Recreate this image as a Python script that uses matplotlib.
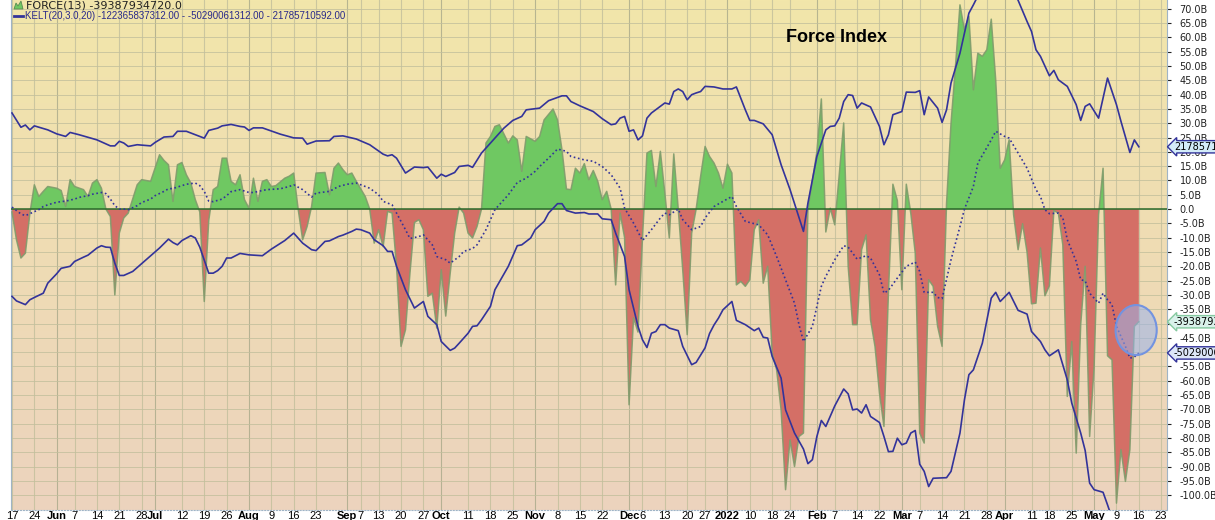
import numpy as np
import pandas as pd
import matplotlib
matplotlib.use("Agg")
import matplotlib.pyplot as plt
from matplotlib.colors import LinearSegmentedColormap
from matplotlib.patches import Ellipse, Polygon
from matplotlib.transforms import blended_transform_factory
from matplotlib.lines import Line2D

# trading calendar (day 0 = 2021-05-17)
holidays = ["2021-05-31", "2021-07-05", "2021-09-06", "2021-11-25", "2021-12-24",
            "2022-01-17", "2022-02-21", "2022-04-15", "2022-05-30"]
days = pd.bdate_range("2021-05-17", "2022-06-03", freq="C", holidays=holidays)

tick_dates = ["2021-05-17", "2021-05-24", "2021-06-01", "2021-06-07", "2021-06-14", "2021-06-21",
              "2021-06-28", "2021-07-01", "2021-07-12", "2021-07-19", "2021-07-26", "2021-08-02",
              "2021-08-09", "2021-08-16", "2021-08-23", "2021-09-01", "2021-09-07", "2021-09-13",
              "2021-09-20", "2021-09-27", "2021-10-01", "2021-10-11", "2021-10-18", "2021-10-25",
              "2021-11-01", "2021-11-08", "2021-11-15", "2021-11-22", "2021-12-01", "2021-12-06",
              "2021-12-13", "2021-12-20", "2021-12-27", "2022-01-03", "2022-01-10", "2022-01-18",
              "2022-01-24", "2022-02-01", "2022-02-07", "2022-02-14", "2022-02-22", "2022-03-01",
              "2022-03-07", "2022-03-14", "2022-03-21", "2022-03-28", "2022-04-01", "2022-04-11",
              "2022-04-18", "2022-04-25", "2022-05-02", "2022-05-09", "2022-05-16", "2022-05-23"]
tick_labels = ["17", "24", "Jun", "7", "14", "21", "28", "Jul", "12", "19", "26", "Aug",
               "9", "16", "23", "Sep", "7", "13", "20", "27", "Oct", "11", "18", "25",
               "Nov", "8", "15", "22", "Dec", "6", "13", "20", "27", "2022", "10", "18",
               "24", "Feb", "7", "14", "22", "Mar", "7", "14", "21", "28", "Apr", "11",
               "18", "25", "May", "9", "16", "23"]
bold_labels = ["Jun", "Jul", "Aug", "Sep", "Oct", "Nov", "Dec", "2022", "Feb", "Mar", "Apr", "May"]

# FORCE(13), billions
force_day = [0, 1, 2, 3, 4, 5, 6, 7, 8, 10, 11, 12, 13, 14, 16, 17, 18, 19, 20, 21, 22, 23, 24, 25, 26,
             28, 29, 31, 33, 34, 35, 36, 37, 38, 39, 40, 41, 42, 43, 44, 45, 46, 47, 48, 49, 50, 51,
             52, 53, 54, 55, 56, 57, 58, 59, 61, 62, 63, 64, 65, 66, 67, 68, 70, 71, 72, 73, 74, 75,
             76, 77, 79, 80, 81, 82, 83, 84, 85, 86, 87, 88, 89, 90, 91, 92, 93, 94, 95, 96, 97, 98,
             99, 100, 101, 102, 103, 104, 105, 106, 107, 108, 109, 111, 112, 113, 114, 115, 117, 118,
             119, 121, 122, 123, 124, 125, 126, 127, 128, 129, 130, 131, 132, 133, 134, 135, 136, 137,
             138, 139, 140, 141, 142, 143, 144, 145, 146, 147, 148, 149, 150, 151, 152, 153, 154, 155,
             156, 157, 158, 159, 160, 161, 162, 163, 164, 165, 166, 167, 168, 169, 170, 171, 172, 173,
             174, 175, 176, 177, 178, 179, 180, 181, 182, 183, 184, 185, 186, 187, 188, 189, 190, 191,
             192, 193, 194, 195, 196, 197, 198, 199, 200, 201, 202, 203, 204, 205, 206, 207, 208, 209,
             210, 211, 212, 213, 214, 215, 216, 217, 218, 219, 220, 221, 222, 223, 224, 225, 226, 227,
             228, 229, 230, 231, 232, 233, 234, 235, 236, 237, 238, 239, 240, 241, 242, 243, 244, 245,
             246, 247, 248, 249, 250, 251, 252]
force_val = [-1.0, -10.7, -17.1, -15.4, -1.5, 8.5, 4.4, 6.2, 7.9, 7.3, 6.5, 0.9, 10.3, 7.9, 6.8, 4.4,
             9.1, 10.3, 7.3, 0.0, -2.6, -30.0, -8.4, -3.1, -1.4,
             8.5, 10.3, 9.7, 19.0, 17.0, 15.5, 2.7, 15.5, 16.3, 12.0, 9.1, 3.3, -1.0, -32.3, -4.0, 6.8,
             7.9, 17.8, 17.8, 9.7, 8.5, 12.0,
             3.3, 0.3, 10.8, 2.7, 9.7, 10.3, 7.9, 8.2, 10.8, 11.5, 12.6, 0.0, -10.7, -6.1, 0.9, 12.6,
             12.8, 5.0, 14.3, 16.1, 13.8, 12.0,
             12.6, 9.7, 4.4, 0.0, -11.9, -7.2, -13.1, -0.8, -1.4, -20.0, -48.0, -42.2, -22.4, -4.7,
             -3.7, -7.2, -30.5, -29.4, -41.6, -21.2, -37.4, -22.4,
             -8.4, 0.7, -1.4, -8.4, -10.1, -6.1, 0.0, 23.1, 25.4, 28.9, 29.5, 23.1, 25.6, 24.2, 13.2,
             25.4, 23.7, 25.4,
             31.2, 35.0, 31.2, 20.7, 7.0, 6.8, 14.3, 12.6, 15.9, 10.3, 13.5, 9.7, 3.3, 6.2, 0.0, -26.5,
             -1.4, -10.0,
             -68.4, -38.0, -43.0, -10.0, 19.6, 20.5, 7.9, 20.2, 5.6, -10.1, 19.3, 0.0, -21.2, -43.9,
             -8.4, 0.0, 11.4, 21.9,
             18.4, 16.1, 12.6, 7.3, 15.7, 12.6, -26.5, -25.3, -27.0, -24.7, -7.2, -3.7, -25.9, -20.0,
             -50.3, -56.2, -70.2, -98.1,
             -80.7, -90.0, -79.5, -78.3, 0.0, 10.0, 20.0, 38.5, -8.0, 0.3, -5.5, 12.0, 30.1, -20.0,
             -40.4, -40.4, -14.2, -9.0,
             -38.7, -48.0, -64.3, -76.0, -29.4, 8.7, 3.0, -28.2, 8.7, -1.4, -15.4, -78.3, -81.8, -24.7,
             -27.0, -41.0, -48.0, 2.0,
             30.0, 50.0, 71.4, 62.7, 67.4, 41.7, 54.5, 53.4, 55.7, 66.4, 45.0, 14.3, 17.2, 24.2, -2.0,
             -14.2, -5.1, -15.0,
             -33.1, -32.9, -13.6, -30.3, -26.8, -0.5, -1.4, -12.5, -65.5, -46.3, -85.3, -40.4, -20.0,
             -79.5, -55.0, -2.0, 14.3, -51.3,
             -52.7, -102.8, -84.1, -95.2, -84.1, -41.0, -39.39]

# KELT(20,3.0,20) upper band
upper_day = [0, 2, 3, 4, 5, 8, 10, 12, 13, 15, 17, 19, 22, 23, 24, 25, 26, 28, 31, 32, 34, 36, 37, 39,
             43, 44, 46, 47, 49, 51, 52, 53, 54, 56, 60, 63, 65, 66, 68, 71, 72, 74, 77, 80, 83, 84,
             85, 86, 88, 90, 92, 93, 95, 96, 97, 99, 100, 102, 103, 105, 107, 110, 112, 114, 115, 118,
             120, 123, 124, 125, 127, 130, 132, 134, 135, 136, 137, 138, 139, 140, 141, 142, 143, 146,
             147, 148, 149, 150, 151, 152, 153, 154, 155, 157, 159, 161, 162, 164, 165, 166, 168, 170,
             172, 174, 177, 178, 180, 182, 183, 184, 185, 186, 187, 188, 189, 190, 192, 194, 195, 196,
             197, 199, 200, 202, 203, 204, 205, 207, 208, 209, 210, 212, 213, 214, 215, 216, 218, 220,
             222, 224, 225, 227, 228, 229, 230, 232, 233, 234, 236, 238, 239, 240, 241, 243, 245, 246,
             247, 248, 250, 251, 252]
upper_val = [33.6, 28.6, 29.4, 27.7, 29.1, 27.7, 26.3, 25.4, 26.8, 26.0, 25.1, 24.2, 22.1, 22.1, 23.7,
             23.1, 21.9, 22.5, 22.1, 23.3, 25.2, 25.4, 27.2, 27.2,
             24.8, 27.5, 28.3, 29.1, 29.6, 28.9, 28.7, 27.5, 28.4, 28.4, 26.2, 24.9, 24.8, 22.7, 23.8,
             23.9, 25.4, 25.6, 24.5, 22.5, 19.2, 18.6,
             19.0, 17.8, 12.6, 14.7, 14.5, 14.7, 10.8, 12.2, 11.4, 12.8, 14.9, 15.3, 14.6, 19.6, 23.1,
             28.3, 31.0, 32.4, 34.7, 35.3,
             37.9, 39.6, 39.6, 37.6, 36.1, 34.1, 31.6, 29.5, 29.8, 31.8, 32.4, 27.2, 27.7, 24.2, 25.6,
             31.8, 33.6, 37.1,
             36.7, 41.1, 42.0, 41.1, 38.2, 40.0, 40.6, 41.1, 42.9, 42.7, 42.0, 42.0, 42.7, 34.7, 31.0,
             31.0, 29.8, 26.0,
             15.5, 6.8, -7.8, 2.1, 18.4, 27.7, 28.9, 29.1, 31.8, 37.6, 40.0, 39.7, 35.3, 37.1, 35.7,
             28.9, 22.5, 26.0,
             33.0, 34.1, 40.9, 40.8, 41.4, 33.0, 39.2, 35.3, 30.3, 34.7, 44.1, 54.5, 61.5, 68.5, 71.4,
             74.5, 78.0, 80.0,
             79.0, 76.0, 73.0, 65.6, 62.1, 55.7, 53.4, 46.6, 48.5, 45.2, 42.9, 36.5, 31.0, 35.9, 36.8,
             31.8, 45.8, 41.1,
             36.5, 30.7, 19.8, 24.2, 21.79]

# KELT middle line
mid_day = [0, 1, 2, 3, 4, 6, 7, 8, 10, 12, 14, 15, 17, 18, 20, 21, 22, 23, 24, 25, 26, 28, 29, 31, 32,
           34, 35, 36, 38, 39, 41, 42, 43, 44, 45, 47, 48, 49, 51, 53, 54, 56, 57, 60, 62, 63, 65, 67,
           68, 71, 73, 75, 77, 80, 82, 83, 85, 86, 88, 89, 91, 92, 94, 95, 97, 98, 100, 101, 103, 104,
           106, 108, 111, 113, 115, 117, 118, 120, 122, 124, 125, 128, 130, 132, 134, 136, 137, 139,
           141, 143, 145, 146, 147, 149, 150, 152, 154, 155, 157, 159, 161, 162, 164, 167, 169, 171,
           173, 175, 176, 177, 179, 181, 182, 184, 186, 187, 189, 191, 192, 194, 195, 196, 198, 200,
           202, 203, 204, 206, 207, 208, 210, 212, 213, 215, 216, 219, 220, 222, 223, 225, 227, 229,
           230, 231, 232, 234, 235, 236, 238, 239, 240, 241, 243, 244, 245, 246, 247, 249, 250, 251,
           252]
mid_val = [0.7, -0.5, -1.7, -2.3, -1.6, -0.2, 0.9, 1.5, 2.4, 2.8, 3.5, 4.1, 4.7, 5.2, 5.8, 5.4, 3.5,
           1.2, 0.0, 0.0, -0.2, 1.2, 2.3, 3.5, 4.7,
           6.2, 7.1, 7.2, 8.2, 8.7, 9.1, 8.2, 6.2, 2.8, 2.6, 3.5, 4.7, 6.1, 6.8, 5.8, 5.8, 6.5, 6.8,
           7.1, 7.9, 8.5, 6.8, 4.2,
           5.6, 6.2, 7.9, 8.7, 9.1, 7.3, 5.0, 2.7, 1.5, -1.4, -7.2, -10.3, -9.6, -9.0, -12.5, -16.6,
           -17.7, -18.9, -16.6, -14.8, -13.8, -12.5,
           -7.2, -0.2, 5.0, 9.3, 10.8, 13.2, 14.9, 17.8, 21.0, 20.2, 18.4, 17.2, 16.7, 14.9, 12.0, 7.3,
           0.3, -4.9,
           -11.0, -7.2, -3.1, -1.4, -2.0, 0.0, -3.7, -7.2, -6.1, -3.1, 0.9, 2.7, 4.4, 0.9, -4.3, -5.5,
           -9.0, -16.6,
           -24.7, -32.9, -40.4, -46.3, -41.0, -27.0, -23.5, -17.7, -12.8, -13.3, -17.5, -16.3, -17.1,
           -23.0, -29.4, -28.4, -24.1, -20.0,
           -18.5, -21.8, -29.1, -29.1, -30.9, -31.3, -17.7, -6.1, 0.0, 7.9, 16.1, 24.2, 27.2, 25.4,
           24.8, 19.6, 14.3, 6.8,
           4.4, -0.2, -1.6, -1.4, -3.1, -10.7, -18.3, -24.7, -25.1, -29.4, -32.9, -29.4, -31.7, -33.4,
           -41.0, -48.0, -52.1, -51.7,
           -50.29]

# KELT lower band
lower_day = [0, 1, 3, 4, 5, 7, 8, 10, 11, 13, 14, 16, 17, 19, 20, 21, 22, 23, 24, 25, 27, 30, 33, 35,
             36, 37, 38, 40, 41, 42, 44, 45, 46, 47, 48, 49, 51, 53, 56, 58, 61, 63, 65, 67, 68, 70,
             71, 73, 74, 76, 77, 78, 80, 81, 83, 84, 85, 86, 88, 90, 92, 93, 95, 96, 98, 99, 100, 102,
             103, 104, 105, 107, 108, 111, 113, 114, 116, 117, 119, 120, 122, 123, 124, 126, 128, 129,
             131, 132, 134, 135, 137, 138, 140, 141, 142, 143, 144, 145, 146, 147, 149, 150, 152, 153,
             155, 156, 157, 158, 159, 161, 162, 164, 166, 167, 168, 169, 170, 172, 173, 175, 177, 178,
             179, 180, 181, 182, 184, 186, 187, 188, 189, 190, 191, 192, 194, 195, 196, 197, 198, 199,
             200, 201, 202, 203, 204, 205, 206, 209, 210, 212, 213, 214, 215, 217, 219, 220, 221, 223,
             225, 227, 228, 230, 231, 232, 234, 236, 237, 239, 240, 241, 242, 244, 245, 246, 248, 250,
             252]
lower_val = [-30.5, -32.1, -33.4, -31.7, -30.9, -29.4, -25.9, -22.6, -20.7, -20.0, -18.3, -16.8, -16.1,
             -13.6, -12.8, -13.3, -13.4, -18.9, -23.2, -23.2, -21.8, -17.7, -13.6, -10.5,
             -11.7, -12.5, -11.0, -9.3, -10.1, -13.3, -22.4, -22.4, -21.5, -20.0, -17.1, -17.1, -15.5,
             -16.0, -16.3, -14.0, -11.0, -8.4, -11.9, -14.2, -14.5, -11.3,
             -11.1, -9.6, -9.1, -7.8, -7.0, -7.2, -8.4, -10.7, -12.8, -14.8, -14.8, -20.0, -28.2,
             -34.6, -32.3, -37.5, -40.4, -46.3, -49.4, -48.6, -46.9, -43.4,
             -41.0, -40.8, -38.7, -34.0, -28.2, -20.0, -12.8, -12.5, -10.1, -7.2, -4.3, -1.4, 1.9, 1.9,
             -0.5, -1.4, -1.2, -1.7,
             -1.7, -3.4, -3.7, -8.4, -16.6, -28.2, -41.0, -45.7, -48.4, -43.4, -42.8, -40.4, -40.4,
             -41.6, -42.5, -48.0, -54.4, -53.6,
             -48.5, -43.5, -40.5, -38.1, -35.2, -32.3, -38.9, -40.4, -42.5, -41.6, -44.8, -45.1, -51.5,
             -59.1, -70.2, -78.3, -83.9, -89.0,
             -87.6, -79.5, -73.9, -76.0, -68.8, -62.9, -64.6, -70.2, -69.9, -71.3, -68.4, -72.5, -74.6,
             -79.5, -84.8, -84.7, -80.1, -82.4,
             -81.8, -78.3, -77.4, -89.2, -91.7, -97.0, -94.1, -93.9, -91.7, -78.3, -66.7, -57.9, -56.2,
             -46.9, -31.1, -29.1, -32.3, -29.1,
             -35.4, -36.7, -42.8, -46.3, -49.2, -51.3, -49.2, -59.7, -67.8, -78.3, -84.4, -95.8, -98.1,
             -99.0, -103.4, -108.0, -114.0, -119.0,
             -122.37]

navy = "#33339a"

fig = plt.figure(figsize=(12.15, 5.2), dpi=100)
ax = fig.add_axes([11 / 1215, 10 / 520, 1156 / 1215, 510 / 520])
x0, x1 = -0.22, 258.3
y0, y1 = -105.2, 73.1

# background gradient
cmap = LinearSegmentedColormap.from_list("bg", ["#f2e6aa", "#efdcb4", "#ecd3be"])
ax.imshow(np.linspace(0, 1, 256).reshape(-1, 1), extent=[x0, x1, y0, y1], aspect="auto",
          cmap=cmap, zorder=0)

tick_pos = days.get_indexer(pd.to_datetime(tick_dates))
for p, lab in zip(tick_pos, tick_labels):
    ax.axvline(p, color="#a9a98a" if lab in bold_labels else "#c2bf9c", lw=0.8, alpha=0.8, zorder=1)
for v in np.arange(-100, 71, 5):
    ax.axhline(v, color="#c2bf9c", lw=0.7, alpha=0.8, zorder=1)

fx = np.array(force_day)
fv = np.array(force_val)
ax.fill_between(fx, fv, 0, where=fv >= 0, interpolate=True, color="#6fc862", lw=0, zorder=2)
ax.fill_between(fx, fv, 0, where=fv <= 0, interpolate=True, color="#d46f66", lw=0, zorder=2)
ax.plot(fx, fv, color="#809c6c", lw=1.1, alpha=0.9, zorder=3)
ax.axhline(0, color="#2a6a2a", lw=1.1, zorder=3)

ax.plot(upper_day, upper_val, color=navy, lw=1.2, zorder=4)
ax.plot(lower_day, lower_val, color=navy, lw=1.2, zorder=4)
ax.plot(mid_day, mid_val, color=navy, lw=1.2, ls=(0, (1, 1.6)), zorder=4)

ax.add_patch(Ellipse((251.4, -42.3), 9.2, 17.5, fc=(0.6, 0.7, 0.93, 0.55), ec="#7393e0", lw=1.5,
                     zorder=5))

ax.text(184.3, 60.1, "Force Index", fontsize=13, fontweight="bold", family="Liberation Sans",
        ha="center", va="center", zorder=6)

ax.set_xlim(x0, x1)
ax.set_ylim(y0, y1)
ax.yaxis.tick_right()
yt = np.arange(-100, 71, 5)
ax.set_yticks(yt)
ax.set_yticklabels(["0.0" if v == 0 else f"{v:.1f}B" for v in yt])
ax.tick_params(axis="y", labelsize=7, length=3, pad=6, colors="#222222")
ax.set_xticks(tick_pos)
ax.set_xticklabels(tick_labels)
ax.tick_params(axis="x", length=0, pad=1, labelsize=8)
for t in ax.get_xticklabels():
    t.set_family("Liberation Sans")
    if t.get_text() in bold_labels:
        t.set_fontweight("bold")
for s in ["left", "right", "bottom"]:
    ax.spines[s].set_color("#9fb4c6")
ax.spines["bottom"].set_linestyle(":")
ax.spines["top"].set_visible(False)

# value tags on the right
tr = blended_transform_factory(ax.transAxes, ax.transData)
tags = [(21.79, "21785710592", "#d3ecf8", navy),
        (-39.39, "-39387934720", "#d9f1ea", "#86c9a0"),
        (-50.29, "-50290061312", "#dde7f8", navy)]
for v, s, fc, ec in tags:
    ax.text(1.006, v, s, transform=tr, fontsize=7, va="center", ha="left", clip_on=False,
            bbox=dict(boxstyle="larrow,pad=0.12", fc=fc, ec=ec, lw=1), zorder=7)

# legend
W, H = 1215, 520
fig.add_artist(Polygon([(14 / W, 1 - 9 / H), (16 / W, 1 - 3 / H), (18 / W, 1 - 6 / H),
                        (21 / W, 1 - 1 / H), (23 / W, 1 - 9 / H)], closed=True,
                       fc="#6fc862", ec="#5a8a50", lw=0.6, transform=fig.transFigure))
fig.add_artist(Line2D([14 / W, 23 / W], [1 - 16 / H, 1 - 16 / H], color=navy, lw=2,
                      transform=fig.transFigure))
fig.text(26 / W, 1 - 5 / H, "FORCE(13) -39387934720.0", fontsize=8, va="center", color="#222222")
fig.text(25 / W, 1 - 16 / H, "KELT(20,3.0,20) -122365837312.00 - -50290061312.00 - 21785710592.00",
         fontsize=7, va="center", color="#2a2a8a",
         family=["Liberation Sans Narrow", "Liberation Sans"])

fig.savefig("out.png", dpi=100)
